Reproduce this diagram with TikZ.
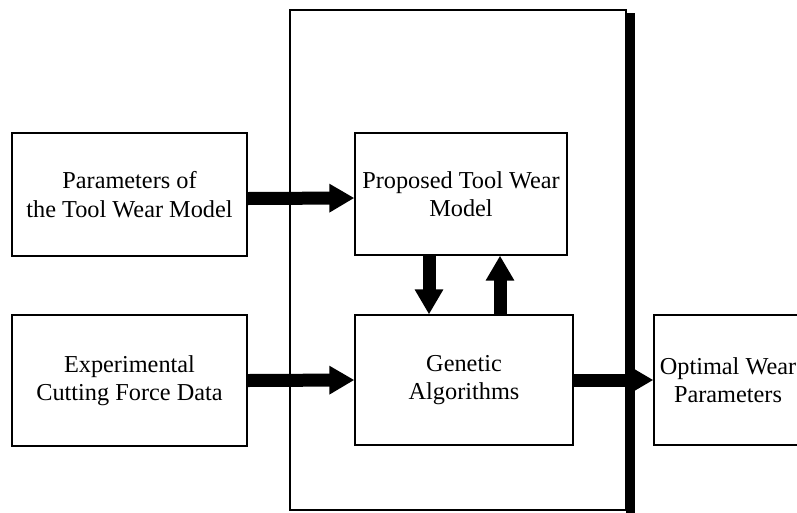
\documentclass[tikz,border=0pt]{standalone}
\usepackage{fontspec}
\setmainfont{Liberation Serif}
\usetikzlibrary{arrows.meta}
\tikzset{
  blk/.style={draw=black, line width=1.3pt, align=center, inner sep=2pt,
    font=\fontsize{24.3}{28.5}\selectfont},
  fatarrow/.style={line width=13pt, -{Triangle[length=25pt,width=27pt]}}
}
\begin{document}
\begin{tikzpicture}[x=1pt,y=-1pt]
\useasboundingbox (0,0) rectangle (797,512);
\clip (0,0) rectangle (797,512);
% enclosing frame with shadow bar
\node[draw=black, line width=1.3pt, minimum width=336pt, minimum height=500pt, inner sep=0pt] (frame) at (458,260) {};
% blocks
\node[blk, minimum width=235pt, minimum height=123pt] (tl) at (129.5,194.5) {Parameters of\\the Tool Wear Model};
\node[blk, minimum width=235pt, minimum height=131pt] (bl) at (129.5,380.5) {Experimental\\Cutting Force Data};
\node[blk, minimum width=212pt, minimum height=122pt] (pm) at (461,194) {Proposed Tool Wear\\Model};
\node[blk, minimum width=218pt, minimum height=130pt] (ga) at (464,380) {Genetic\\Algorithms};
\node[blk, minimum width=148pt, minimum height=130pt] (ow) at (728,380) {Optimal Wear\\Parameters};
% connectors
\draw[fatarrow] ([yshift=-4pt]tl.east) -- ([yshift=-4pt]pm.west);
\draw[fatarrow] (bl.east) -- (ga.west);
\draw[fatarrow] ([xshift=-32pt]pm.south) -- ([xshift=-35pt]ga.north);
\draw[fatarrow] ([xshift=36pt]ga.north) -- ([xshift=39pt]pm.south);
\draw[fatarrow] (ga.east) -- (ow.west);
% thick right edge of the frame
\fill[black] ([xshift=-1pt,yshift=-4pt]frame.north east) rectangle ([xshift=8pt,yshift=-2pt]frame.south east);
\end{tikzpicture}
\end{document}
